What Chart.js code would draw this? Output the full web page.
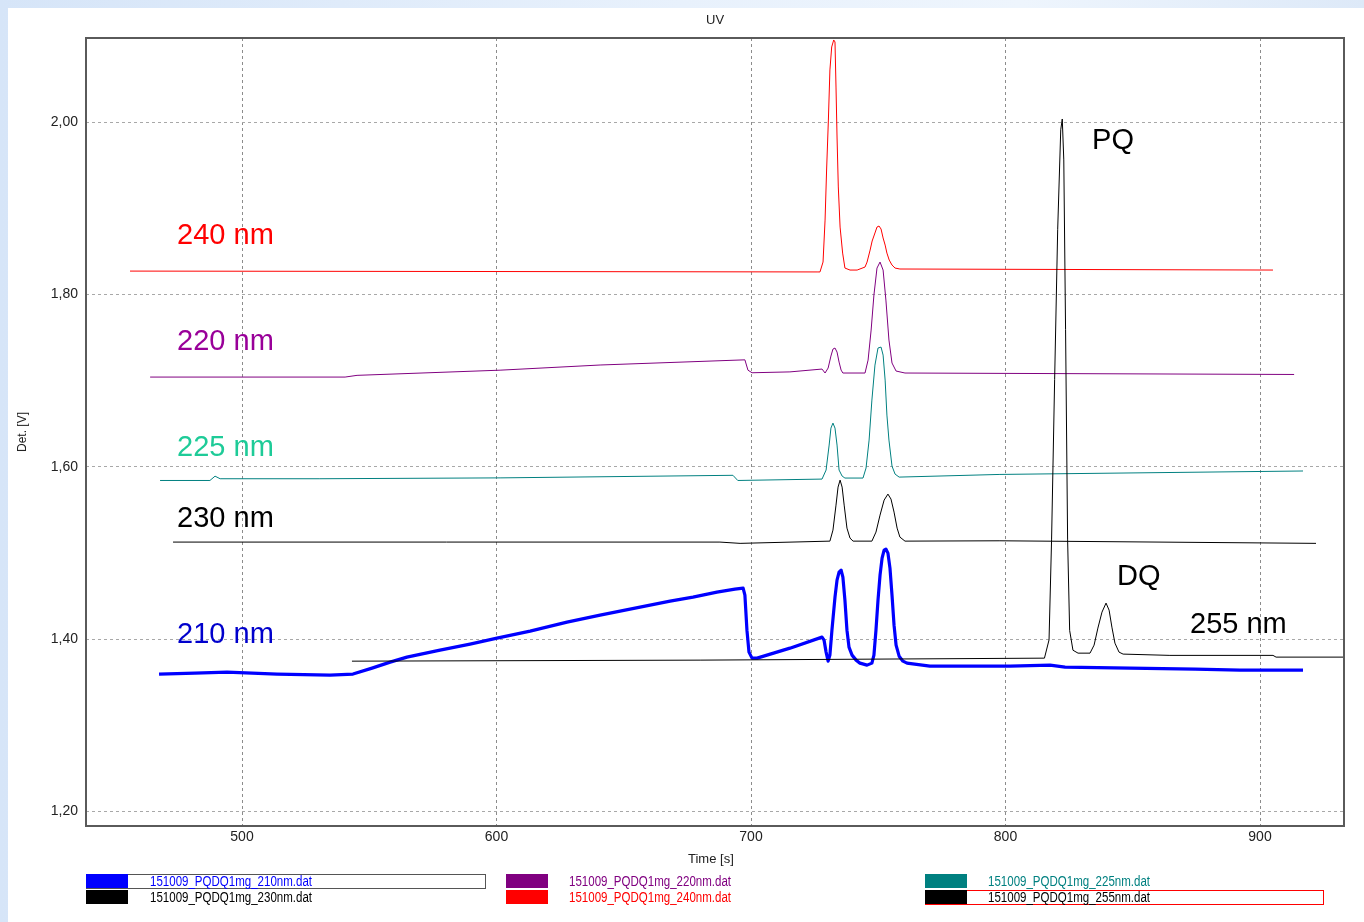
<!DOCTYPE html>
<html><head><meta charset="utf-8">
<script src="https://cdn.jsdelivr.net/npm/chart.js@4.4.1/dist/chart.umd.min.js"></script>
<style>
html,body{margin:0;padding:0;}
body{width:1364px;height:922px;position:relative;overflow:hidden;background:linear-gradient(90deg,#d6e5f8 0%,#e8f1fc 50%,#eef5fd 75%,#dde9f8 100%);font-family:"Liberation Sans",Arial,sans-serif;}
#panel{position:absolute;left:8px;top:8px;width:1356px;height:914px;background:#fff;}
#c{position:absolute;left:0;top:0;}
.t{position:absolute;font-size:14px;color:#222;white-space:nowrap;line-height:16px;}
.lg{position:absolute;font-family:"Liberation Sans",Arial,sans-serif;font-size:14px;line-height:14px;white-space:nowrap;transform:scaleX(0.823);transform-origin:0 0;}
.sw{position:absolute;height:14px;width:42px;}
.box{position:absolute;box-sizing:border-box;}
</style></head>
<body>
<div id="panel"></div>
<canvas id="c" width="1364" height="922"></canvas>
<div class="t" style="left:706px;top:12px;font-size:13px;">UV</div>
<div class="t" style="left:688px;top:851px;font-size:13px;">Time [s]</div>
<div class="t" style="left:-2px;top:424px;font-size:12px;transform:rotate(-90deg);transform-origin:24px 8px;width:48px;text-align:center;">Det. [V]</div>
<div id="legend"></div>
<script>
// ---- data (time [s], detector [V]) ----
const t240=[456.0,726.3,727.1,728.3,729.1,729.7,730.4,731.0,731.7,732.5,733.0,733.4,733.8,734.3,735.0,736.0,736.9,738.9,741.7,744.8,745.6,746.8,747.6,748.7,749.5,750.3,751.1,751.9,752.7,753.4,754.3,755.4,756.6,758.5,905.1];
const v240=[1.827,1.826,1.826,1.8375,1.8862,1.9443,2.0023,2.0604,2.0871,2.0952,2.0929,2.0406,1.9826,1.9246,1.8781,1.8479,1.8305,1.8282,1.8282,1.8317,1.8375,1.8514,1.8619,1.8712,1.8781,1.8793,1.8758,1.8654,1.8572,1.8479,1.8398,1.8340,1.8305,1.8294,1.8282];

const t220=[463.9,540.5,545.2,601.4,640.7,697.6,698.8,700.4,715.3,727.9,729.1,730.3,731.4,732.2,733.0,733.8,734.6,735.4,736.1,744.8,746.0,747.2,748.3,749.5,750.7,751.9,753.0,754.2,755.4,757.0,760.5,913.4];
const v220=[1.704,1.704,1.706,1.712,1.718,1.724,1.712,1.709,1.710,1.7133,1.7087,1.7145,1.7284,1.7365,1.7377,1.7330,1.7214,1.7121,1.7087,1.7087,1.7237,1.7586,1.7992,1.8305,1.8375,1.8282,1.7934,1.7470,1.7203,1.7110,1.7087,1.707];

const t225=[467.8,487.4,489.4,491.4,530.6,601.4,692.9,694.8,727.9,729.5,730.7,731.4,732.2,733.0,733.8,734.6,735.8,736.9,744.0,745.2,746.4,747.5,748.7,749.9,751.1,751.9,752.7,753.4,754.2,755.4,756.6,758.2,797.8,916.9];
const v225=[1.584,1.584,1.589,1.586,1.586,1.587,1.590,1.584,1.5856,1.5961,1.6251,1.6448,1.6506,1.6448,1.6251,1.5961,1.5891,1.5868,1.5868,1.5984,1.6309,1.6773,1.7179,1.7377,1.7388,1.7295,1.7005,1.6599,1.6309,1.6007,1.5914,1.5879,1.591,1.595];

const t230=[472.9,687.8,695.7,731.0,732.2,733.4,734.2,735.0,735.8,736.6,737.7,738.9,740.1,747.5,749.1,750.7,752.3,753.8,755.0,756.2,757.4,758.5,760.5,797.8,922.0];
const v230=[1.5125,1.5125,1.511,1.5136,1.5264,1.5554,1.5763,1.5844,1.5763,1.5554,1.5287,1.5171,1.5136,1.5136,1.5241,1.5438,1.5612,1.5682,1.5624,1.5473,1.5287,1.5183,1.5136,1.514,1.511];

const t255=[543.2,680.0,815.3,817.1,818.1,819.3,820.5,821.7,822.3,822.9,823.6,824.4,825.2,826.5,828.5,833.2,834.8,836.3,837.9,839.5,840.7,841.8,843.0,844.6,846.2,864.6,905.1,906.3,935.0];
const v255=[1.3743,1.3755,1.3778,1.399,1.515,1.701,1.875,1.991,2.0035,1.956,1.759,1.515,1.410,1.387,1.3836,1.3836,1.3929,1.4127,1.4312,1.4417,1.4335,1.4138,1.3952,1.3848,1.3825,1.381,1.381,1.379,1.379];

const t210=[467.4,481.5,494.1,513.8,534.6,543.6,551.1,558.2,564.8,577.8,589.6,600.2,613.2,627.7,640.7,656.4,668.2,677.2,686.6,693.7,696.9,697.6,698.4,699.2,700.4,702.4,715.3,727.9,728.7,729.5,730.3,731.0,731.8,733.0,733.8,734.6,735.4,736.1,736.9,737.7,738.5,739.7,741.3,742.8,745.6,747.5,748.3,749.1,749.9,750.7,751.5,752.3,753.0,753.8,754.6,755.4,756.2,757.0,758.2,759.7,761.3,770.3,801.8,817.5,823.4,848.9,874.5,892.1,916.9];
const v210=[1.3593,1.3604,1.3616,1.3593,1.3581,1.3593,1.3662,1.3732,1.3790,1.3871,1.3941,1.4010,1.4092,1.4196,1.4277,1.4370,1.4440,1.4486,1.4544,1.4579,1.4591,1.4510,1.4103,1.3848,1.3778,1.3778,1.3894,1.4022,1.3987,1.3848,1.3743,1.3813,1.4103,1.4486,1.4684,1.4777,1.4800,1.4718,1.4451,1.4103,1.3906,1.3813,1.3755,1.3720,1.3697,1.3720,1.3813,1.4103,1.4451,1.4742,1.4939,1.5032,1.5044,1.4997,1.4823,1.4510,1.4161,1.3929,1.3801,1.3743,1.3720,1.3685,1.3685,1.3697,1.3674,1.3662,1.3651,1.3639,1.3639];

const xTicks=[500,600,700,800,900];
const yTicks=[1.20,1.40,1.60,1.80,2.00];

const legendNames=["151009_PQDQ1mg_210nm.dat","151009_PQDQ1mg_230nm.dat","151009_PQDQ1mg_220nm.dat","151009_PQDQ1mg_240nm.dat","151009_PQDQ1mg_225nm.dat","151009_PQDQ1mg_255nm.dat"];
const legendColors=["#0000ff","#000000","#800080","#ff0000","#008080","#000000"];

const labelText=["240 nm","220 nm","225 nm","230 nm","210 nm","PQ","DQ","255 nm"];
const labelT=[474.5,474.5,474.5,474.5,474.5,834.0,843.8,872.5];
const labelV=[1.858,1.7353,1.6123,1.5299,1.3952,1.9687,1.4626,1.4068];
const labelColor=["#ff0000","#990099","#1ecb98","#000000","#0000cc","#000000","#000000","#000000"];

// ---- build ----
const zip=(t,v)=>t.map((x,i)=>({x:x,y:v[i]}));
const ds=(t,v,c,w)=>({data:zip(t,v),borderColor:c,borderWidth:w,pointRadius:0,tension:0,fill:false,borderJoinStyle:'round'});

const frame={id:'frame',afterDraw(c){const a=c.chartArea,ctx=c.ctx;ctx.save();ctx.strokeStyle='#5a5a5a';ctx.lineWidth=2;ctx.strokeRect(a.left,a.top,a.right-a.left,a.bottom-a.top);ctx.restore();}};
const labels={id:'labels',afterDatasetsDraw(c){const ctx=c.ctx,xs=c.scales.x,ys=c.scales.y;ctx.save();ctx.font='29px "Liberation Sans", Arial, sans-serif';ctx.textAlign='left';ctx.textBaseline='alphabetic';
  labelText.forEach((s,i)=>{ctx.fillStyle=labelColor[i];ctx.fillText(s,xs.getPixelForValue(labelT[i]),ys.getPixelForValue(labelV[i]));});ctx.restore();}};

new Chart(document.getElementById('c'),{
  type:'line',
  data:{datasets:[
    ds(t255,v255,'#000000',1),
    ds(t240,v240,'#ff0000',1),
    ds(t220,v220,'#800080',1),
    ds(t225,v225,'#008080',1),
    ds(t230,v230,'#000000',1),
    ds(t210,v210,'#0000ff',3.2)
  ]},
  options:{
    responsive:false,animation:false,devicePixelRatio:1,
    layout:{padding:{left:40,top:38,right:20,bottom:56}},
    plugins:{legend:{display:false},title:{display:false},tooltip:{enabled:false}},
    scales:{
      x:{type:'linear',min:438.7,max:933,
        afterBuildTicks:a=>{a.ticks=xTicks.map(v=>({value:v}));},
        afterFit:s=>{s.height=40;},
        grid:{color:'#8c8c8c',lineWidth:1,drawTicks:false},
        border:{display:false,dash:[3,3]},
        ticks:{padding:3,color:'#222',font:{family:'"Liberation Sans", Arial, sans-serif',size:14},maxRotation:0,callback:v=>String(v)}},
      y:{type:'linear',min:1.183,max:2.0975,
        afterBuildTicks:a=>{a.ticks=yTicks.map(v=>({value:v}));},
        afterFit:s=>{s.width=46;},
        grid:{color:'#a8a8a8',lineWidth:1,drawTicks:false},
        border:{display:false,dash:[3,3]},
        ticks:{padding:8,color:'#222',font:{family:'"Liberation Sans", Arial, sans-serif',size:14},callback:v=>v.toFixed(2).replace('.',',')}}
    }
  },
  plugins:[frame,labels]
});

// legend (HTML)
const colX=[86,506,925], txtX=[150,569,988], rowY=[874,890];
const lg=document.getElementById('legend');
legendNames.forEach((n,i)=>{
  const col=Math.floor(i/2), row=i%2;
  if(i===0){const b=document.createElement('div');b.className='box';b.style.cssText=`left:${colX[col]}px;top:${rowY[row]}px;width:400px;height:15px;border:1px solid #555;`;lg.appendChild(b);}
  if(i===5){const b=document.createElement('div');b.className='box';b.style.cssText=`left:${colX[col]}px;top:${rowY[row]}px;width:399px;height:15px;border:1px solid #ff0000;`;lg.appendChild(b);}
  const s=document.createElement('div');s.className='sw';s.style.cssText=`left:${colX[col]}px;top:${rowY[row]}px;background:${legendColors[i]};`;lg.appendChild(s);
  const t=document.createElement('div');t.className='lg';t.textContent=n;t.style.cssText=`left:${txtX[col]}px;top:${rowY[row]}px;color:${legendColors[i]};`;lg.appendChild(t);
});
</script>
</body></html>
